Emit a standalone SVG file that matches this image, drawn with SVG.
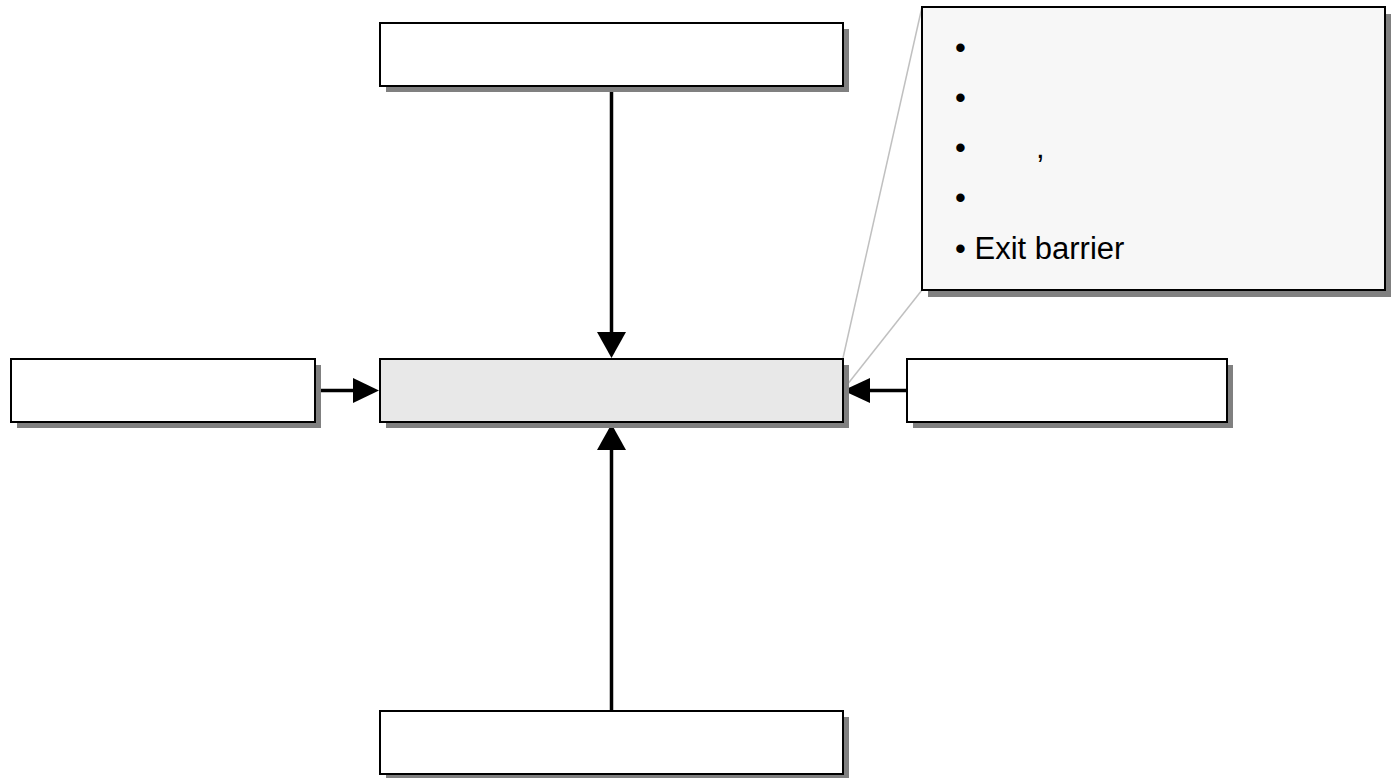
<svg xmlns="http://www.w3.org/2000/svg" width="1392" height="778" viewBox="0 0 1392 778">
<defs>
<style>
.shadow{fill:#808080;}
.box{fill:#ffffff;stroke:#000000;stroke-width:2;}
.center{fill:#e8e8e8;stroke:#000000;stroke-width:2;}
.callout{fill:#f7f7f7;stroke:#000000;stroke-width:2;}
.conn{stroke:#000000;stroke-width:3.5;fill:none;}
.lead{stroke:#c0c0c0;stroke-width:1.5;fill:none;}
.txt{font-family:"Liberation Sans",Arial,sans-serif;font-size:31px;fill:#000000;}
</style>
</defs>
<rect width="1392" height="778" fill="#ffffff"/>
<g id="connectors">
<line class="lead" x1="922" y1="7" x2="843" y2="358"/>
<line class="lead" x1="922" y1="290" x2="843" y2="390"/>
<line class="conn" x1="611.5" y1="86" x2="611.5" y2="333"/>
<polygon points="597,332 626,332 611.5,358" fill="#000"/>
<line class="conn" x1="611.5" y1="711" x2="611.5" y2="448"/>
<polygon points="597,450 626,450 611.5,424" fill="#000"/>
<line class="conn" x1="315" y1="390.5" x2="355" y2="390.5"/>
<polygon points="353,378 353,403 379,390.5" fill="#000"/>
<line class="conn" x1="907" y1="390.5" x2="868" y2="390.5"/>
<polygon points="870,378 870,403 843,390.5" fill="#000"/>
</g>
<g id="node-top">
<rect class="shadow" x="386" y="29" width="463" height="63"/>
<rect class="box" x="380" y="23" width="463" height="63"/>
</g>
<g id="node-center">
<rect class="shadow" x="386" y="365" width="463" height="63"/>
<rect class="center" x="380" y="359" width="463" height="63"/>
</g>
<g id="node-left">
<rect class="shadow" x="17" y="365" width="304" height="63"/>
<rect class="box" x="11" y="359" width="304" height="63"/>
</g>
<g id="node-right">
<rect class="shadow" x="913" y="365" width="320" height="63"/>
<rect class="box" x="907" y="359" width="320" height="63"/>
</g>
<g id="node-bottom">
<rect class="shadow" x="386" y="717" width="463" height="63"/>
<rect class="box" x="380" y="711" width="463" height="63"/>
</g>
<g id="callout">
<rect class="shadow" x="928" y="14" width="463" height="283"/>
<rect class="callout" x="922" y="7" width="463" height="283"/>
<text class="txt" x="955" y="58">•</text>
<text class="txt" x="955" y="108">•</text>
<text class="txt" x="955" y="158">•</text>
<text class="txt" x="1036" y="158">,</text>
<text class="txt" x="955" y="208">•</text>
<text class="txt" x="955" y="259">• Exit barrier</text>
</g>
</svg>
